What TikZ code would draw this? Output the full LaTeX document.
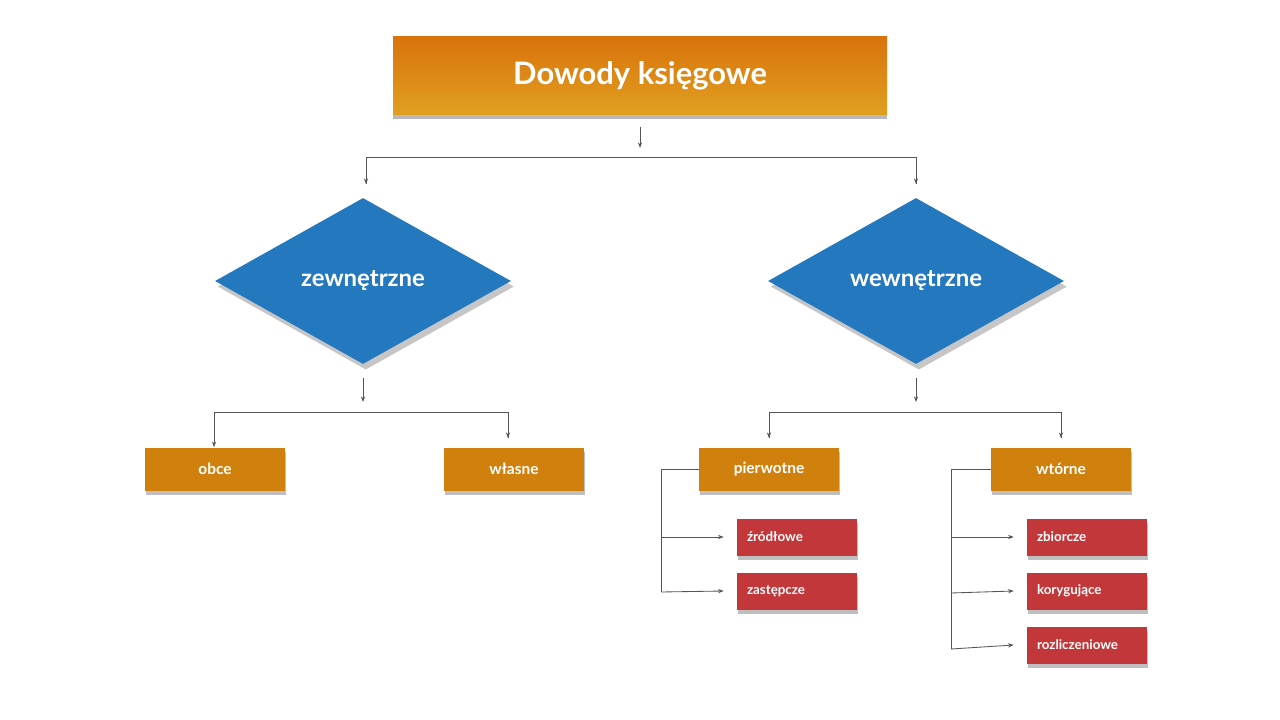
\documentclass[tikz,border=0pt]{standalone}
\usepackage{fontspec}
\setmainfont{Lato}
\usetikzlibrary{shapes.geometric,shadows,arrows.meta}
\definecolor{boxorange}{HTML}{D0800C}
\definecolor{titletop}{HTML}{D9730C}
\definecolor{titlebot}{HTML}{E0A020}
\definecolor{diamblue}{HTML}{2478BE}
\definecolor{boxred}{HTML}{C2373A}
\definecolor{linegray}{HTML}{555555}
\tikzset{
titlebox/.style={rectangle, top color=titletop, bottom color=titlebot, draw=none, minimum width=494*0.025cm, minimum height=78*0.025cm, text=white, font=\bfseries\fontsize{22}{26}\selectfont, drop shadow={shadow xshift=0pt, shadow yshift=-3pt, fill=gray!55, opacity=1}},
diamondnode/.style={diamond, fill=diamblue, aspect=1.78, minimum width=296*0.025cm, minimum height=166*0.025cm, inner sep=0pt, text=white, font=\bfseries\fontsize{17}{20}\selectfont, drop shadow={shadow xshift=2pt, shadow yshift=-4pt, fill=gray!45, opacity=1}},
orangebox/.style={rectangle, fill=boxorange, minimum width=140*0.025cm, minimum height=43*0.025cm, text=white, font=\bfseries\fontsize{11}{13}\selectfont, drop shadow={shadow xshift=1pt, shadow yshift=-3pt, fill=gray!50, opacity=1}},
redbox/.style={rectangle, fill=boxred, minimum width=120*0.025cm, minimum height=37*0.025cm, text=white, font=\bfseries\fontsize{9.5}{11}\selectfont, text width=100*0.025cm, align=left, drop shadow={shadow xshift=1pt, shadow yshift=-3pt, fill=gray!50, opacity=1}},
conn/.style={draw=linegray, line width=0.6pt},
arr/.style={conn, -{Stealth[length=4pt,width=3pt]}},
}
\begin{document}
\begin{tikzpicture}[x=0.025cm, y=-0.025cm]
    \useasboundingbox (0,0) rectangle (1280,720);
    \node[titlebox] at (640,76) (title) {Dowody księgowe};
    \node[diamondnode] at (363,281) (zew) {zewnętrzne};
    \node[diamondnode] at (916,281) (wew) {wewnętrzne};
    \node[orangebox] at (215,469) (obce) {obce};
    \node[orangebox] at (514,469) (wlasne) {własne};
    \node[orangebox] at (769,469) (pierw) {pierwotne};
    \node[orangebox] at (1061,469) (wtor) {wtórne};
    \node[redbox] at (797,537) (zrod) {źródłowe};
    \node[redbox] at (797,591) (zast) {zastępcze};
    \node[redbox] at (1087,537) (zbior) {zbiorcze};
    \node[redbox] at (1087,591) (koryg) {korygujące};
    \node[redbox] at (1087,645) (rozl) {rozliczeniowe};
    % top level
    \coordinate (t1) at (640,127);
    \coordinate (t2) at (640,148);
    \draw[arr] (t1) -- (t2);
    \draw[conn] (366,184) |- (916,157) -- (916,184);
    \draw[arr] (366,170) -- (366,184);
    \draw[arr] (916,170) -- (916,184);
    % zewnetrzne
    \draw[arr] (363,378) -- (363,402);
    \draw[conn] (214,438) |- (508,412) -- (508,438);
    \draw[arr] (214,425) -- (obce.north-|214,438);
    \draw[arr] (508,425) -- (508,438);
    % wewnetrzne
    \draw[arr] (916,378) -- (916,402);
    \draw[conn] (769,438) |- (1061,412) -- (1061,438);
    \draw[arr] (769,425) -- (769,438);
    \draw[arr] (1061,425) -- (1061,438);
    % pierwotne
    \coordinate (p0) at (661,469);
    \draw[conn] (pierw.west) -- (p0) -- (661,592);
    \draw[arr] (661,537) -- ([xshift=-13*0.025cm]zrod.west);
    \draw[arr] (661,592) -- ([xshift=-13*0.025cm]zast.west);
    % wtorne
    \coordinate (w0) at (951,469);
    \draw[conn] (wtor.west) -- (w0) -- (951,649);
    \draw[arr] (951,537) -- ([xshift=-13*0.025cm]zbior.west);
    \draw[arr] (951,593) -- ([xshift=-13*0.025cm]koryg.west);
    \draw[arr] (951,649) -- ([xshift=-13*0.025cm]rozl.west);
\end{tikzpicture}
\end{document}
